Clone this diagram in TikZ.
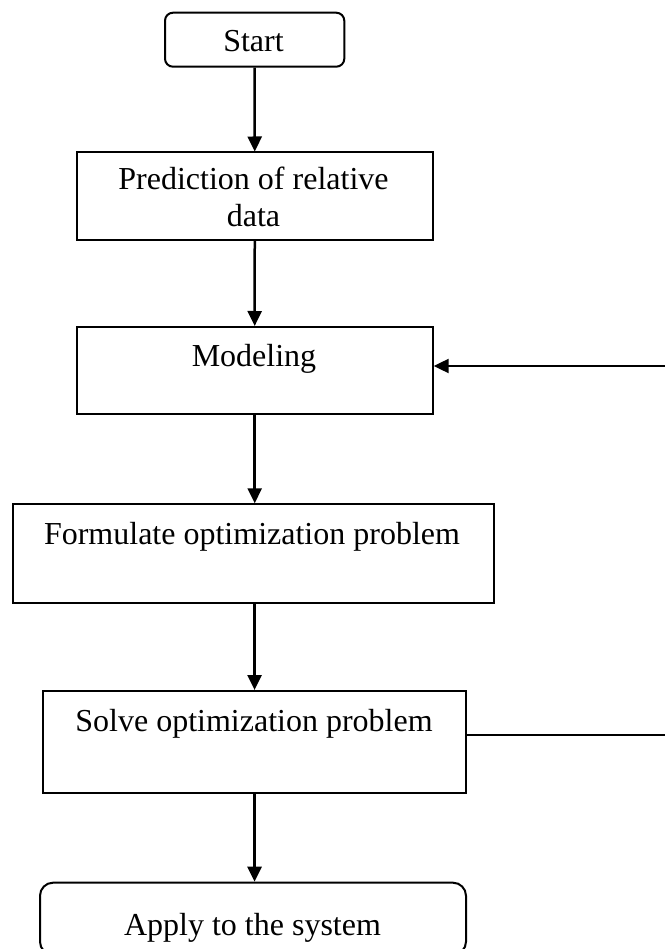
\documentclass[tikz,border=0pt]{standalone}
\usepackage{fontspec}
\setmainfont{Liberation Serif}
\usetikzlibrary{arrows.meta}
\begin{document}
\begin{tikzpicture}[x=1pt,y=-1pt,
  box/.style={draw=black, line width=2pt, rectangle, inner sep=0pt, anchor=north west},
  rbox/.style={box, rounded corners=#1},
  lbl/.style={anchor=base, inner sep=0pt, font=\fontsize{32}{37}\selectfont, align=center},
  flow/.style={line width=2.5pt, -{Triangle[length=15pt,width=14pt]}},
  back/.style={line width=2.2pt, -{Triangle[length=15pt,width=14pt]}}]
\useasboundingbox (0,0) rectangle (664,949);

% process boxes
\node[rbox=8pt, minimum width=179.3pt, minimum height=54pt]   (start) at (164,11.7) {};
\node[box,      minimum width=356.5pt, minimum height=87.5pt] (pred)  at (75.5,151.5) {};
\node[box,      minimum width=356pt,   minimum height=86.7pt] (model) at (75.7,326) {};
\node[box,      minimum width=481pt,   minimum height=99pt]   (form)  at (11.7,503.3) {};
\node[box,      minimum width=423.5pt, minimum height=101.7pt](solve) at (41.8,690) {};
\node[rbox=13pt,minimum width=426pt,   minimum height=72pt]   (apply) at (39,881.7) {};

% box texts (base anchor = baseline of the last line)
\node[lbl] (tstart) at (253.5,51.7)  {Start};
\node[lbl] (tpred)  at (253.5,227)   {Prediction of relative\\data};
\node[lbl] (tmodel) at (254,366.7)   {Modeling};
\node[lbl] (tform)  at (252,544.3)   {Formulate optimization problem};
\node[lbl] (tsolve) at (254,731.7)   {Solve optimization problem};
\node[lbl] (tapply) at (252.5,935)   {Apply to the system};

% main flow
\draw[flow] (start.south) -- (pred.north);
\draw[flow] (pred.south) -- (model.north);
\draw[flow] (model.south) -- (model.south |- form.north);
\draw[flow] (solve.north |- form.south) -- (solve.north);
\draw[flow] (solve.south) -- (solve.south |- apply.north);

% feedback loop from solving back to modeling (its riser lies past the right edge)
\coordinate (sx) at ([yshift=6.85pt]solve.east);
\coordinate (mx) at ([yshift=4.35pt]model.east);
\coordinate (fb) at (672,0);
\draw[back] (sx) -- (sx -| fb) |- (mx);
\end{tikzpicture}
\end{document}
